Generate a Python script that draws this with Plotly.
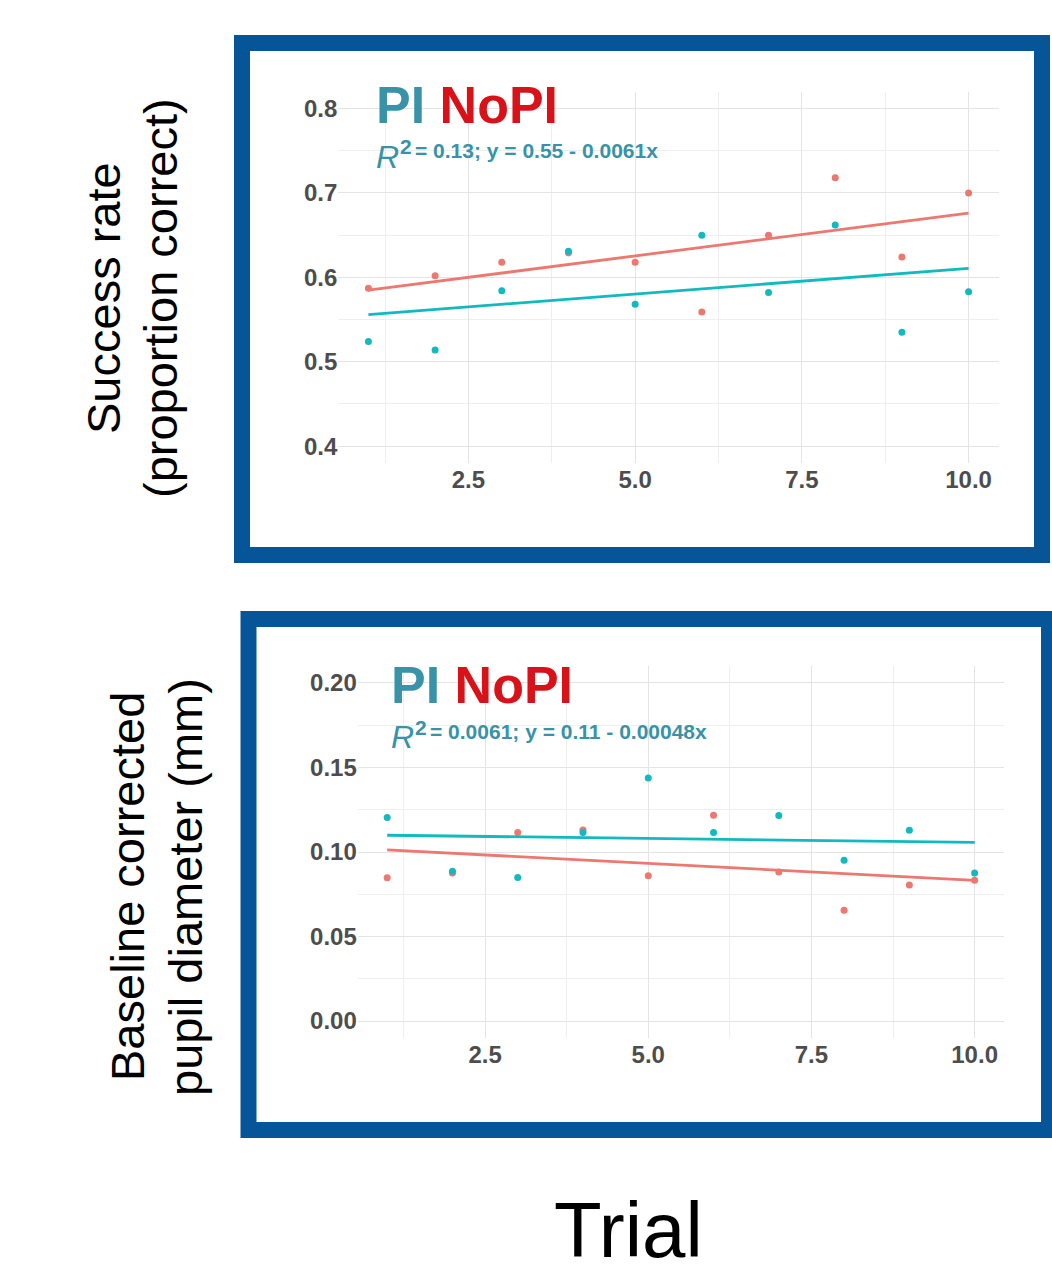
import numpy as np
import plotly.graph_objects as go

# ---- data ----
trials = [1, 2, 3, 4, 5, 6, 7, 8, 9, 10]
success_pi = [0.524, 0.514, 0.584, 0.631, 0.568, 0.650, 0.582, 0.662, 0.535, 0.583]
success_nopi = [0.587, 0.602, 0.618, 0.629, 0.618, 0.559, 0.650, 0.718, 0.624, 0.700]
pupil_pi = [0.1204, 0.0886, 0.0849, 0.1116, 0.1438, 0.1116, 0.1216, 0.0951, 0.1128, 0.0876]
pupil_nopi = [0.0847, 0.0876, 0.1116, 0.1130, 0.0860, 0.1218, 0.0882, 0.0656, 0.0805, 0.0833]
x_ticks = [2.5, 5.0, 7.5, 10.0]
sr_ticks = [0.4, 0.5, 0.6, 0.7, 0.8]
pd_ticks = [0.00, 0.05, 0.10, 0.15, 0.20]
eq_top = "= 0.13; y = 0.55 - 0.0061x"
eq_bot = "= 0.0061; y = 0.11 - 0.00048x"

W, H = 1052, 1276
TEAL = "#12B9BE"
RED = "#EC7870"
BLUE = "#075599"
TXT_TEAL = "#3893A8"
TXT_RED = "#D9121A"


def px(x):
    return x / W


def py(y):
    return 1 - y / H


fig = go.Figure()


def add_group(xs, ys, color, xa, ya):
    k, b = np.polyfit(xs, ys, 1)
    xl = np.array([min(xs), max(xs)])
    fig.add_trace(go.Scatter(x=xl, y=k * xl + b, mode="lines",
                             line=dict(color=color, width=2.8),
                             xaxis=xa, yaxis=ya, showlegend=False, hoverinfo="skip"))
    fig.add_trace(go.Scatter(x=xs, y=ys, mode="markers",
                             marker=dict(color=color, size=7),
                             xaxis=xa, yaxis=ya, showlegend=False))


add_group(trials, success_nopi, RED, "x", "y")
add_group(trials, success_pi, TEAL, "x", "y")
add_group(trials, pupil_nopi, RED, "x2", "y2")
add_group(trials, pupil_pi, TEAL, "x2", "y2")

tickfont = dict(family="Liberation Sans, Arial, sans-serif",
                size=24, color="#4D4D4D", weight="bold")
grid = dict(showgrid=True, gridcolor="#E4E4E4", gridwidth=1.4, zeroline=False,
            showline=False, ticks="", tickfont=tickfont)
minor = dict(showgrid=True, gridcolor="#EEEEEE", gridwidth=1)

fig.update_layout(
    width=W, height=H, margin=dict(l=0, r=0, t=0, b=0),
    paper_bgcolor="white", plot_bgcolor="white", showlegend=False,
    xaxis=dict(domain=[px(338.4), px(998.6)], range=[0.55, 10.45], anchor="y",
               tickvals=x_ticks, tickformat=".1f",
               minor=dict(dtick=1.25, tick0=0, **minor), **grid),
    yaxis=dict(domain=[py(463), py(91.7)], range=[0.38, 0.82], anchor="x",
               tickvals=sr_ticks, tickformat=".1f",
               minor=dict(dtick=0.05, tick0=0, **minor), **grid),
    xaxis2=dict(domain=[px(357.8), px(1004)], range=[0.55, 10.45], anchor="y2",
                tickvals=x_ticks, tickformat=".1f",
                minor=dict(dtick=1.25, tick0=0, **minor), **grid),
    yaxis2=dict(domain=[py(1038), py(666)], range=[-0.01, 0.21], anchor="x2",
                tickvals=pd_ticks, tickformat=".2f",
                minor=dict(dtick=0.025, tick0=0, **minor), **grid),
)

# borders
fig.add_shape(type="rect", xref="paper", yref="paper",
              x0=px(242), x1=px(1042), y0=py(555), y1=py(43),
              line=dict(color=BLUE, width=16), fillcolor="rgba(0,0,0,0)", layer="above")
fig.add_shape(type="rect", xref="paper", yref="paper",
              x0=px(248.5), x1=px(1049), y0=py(1130), y1=py(619),
              line=dict(color=BLUE, width=16), fillcolor="rgba(0,0,0,0)", layer="above")

SANS = "Liberation Sans, Arial, Helvetica, sans-serif"


def ann(text, x, y, size, color="black", xanchor="left", yanchor="middle", angle=0, family=SANS):
    fig.add_annotation(text=text, x=px(x), y=py(y), xref="paper", yref="paper",
                       xanchor=xanchor, yanchor=yanchor, showarrow=False, textangle=angle,
                       font=dict(family=family, size=size, color=color))


pinopi = (f"<b><span style='color:{TXT_TEAL}'>PI</span> "
          f"<span style='color:{TXT_RED}'>NoPI</span></b>")


def panel_labels(x0, ytop, eq):
    ann(pinopi, x0 - 3, ytop + 19, 52)
    ann("<i>R</i>", x0 - 3, ytop + 71, 32, TXT_TEAL)
    ann("<b>2</b>", x0 + 21, ytop + 61, 21, TXT_TEAL)
    ann(f"<b>{eq}</b>", x0 + 36, ytop + 65, 21, TXT_TEAL)


panel_labels(377, 86, eq_top)
panel_labels(392, 666, eq_bot)

# axis titles
ann("Success rate", 103, 298, 47, xanchor="center", angle=-90)
ann("(proportion correct)", 160, 298, 47, xanchor="center", angle=-90)
ann("Baseline corrected", 127, 887, 47, xanchor="center", angle=-90)
ann("pupil diameter (mm)", 185, 887, 47, xanchor="center", angle=-90)
ann("Trial", 628, 1230, 78, xanchor="center")

fig.write_html("out.html", config={"displayModeBar": False},
               post_script="document.body.style.margin='0';document.body.style.overflow='hidden';")
